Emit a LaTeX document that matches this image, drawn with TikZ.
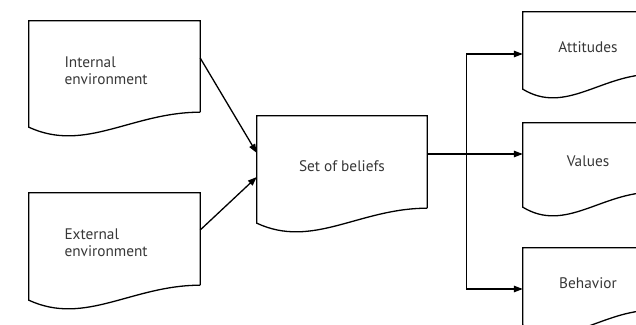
\documentclass[tikz,border=0pt]{standalone}
\usepackage{fontspec}
\setmainfont{PT Sans}
\usetikzlibrary{arrows.meta, positioning}
\definecolor{txtgray}{RGB}{55,55,55}

\tikzset{
    line/.style={line width=1.3pt, black},
    arr/.style={line, -{Triangle[length=9pt, width=6.5pt]}},
    % document shape: rectangle with a wavy lower edge (outline sits 4pt above the text centre)
    docbox/.style 2 args={rectangle, inner sep=0pt, minimum width=#1pt, minimum height=#2pt,
        align=center, text=txtgray, font=\fontsize{15.3}{17}\selectfont,
        append after command={
            \pgfextra{\let\docnode\tikzlastnode
            \draw[line, line join=miter]
            ([yshift=4]\docnode.south east) -- ([yshift=4]\docnode.north east)
            -- ([yshift=4]\docnode.north west) -- ([yshift=-11]\docnode.south west)
            .. controls +({0.33*#1}, -26) and +({-0.4*#1}, 0) .. ([yshift=4]\docnode.south east);}
        }},
}

\begin{document}
\begin{tikzpicture}[x=1pt, y=1pt]
    \useasboundingbox (0,0) rectangle (636,324);

    % left column
    \node[docbox={171}{91}, text width=100pt, align=left] (int) at (114.5,253.5) {Internal\\environment};
    \node[docbox={171}{92}, text width=100pt, align=left] (ext) at (114.5,81) {External\\environment};

    % middle
    \node[docbox={170}{92}] (bel) at (342,158) {Set of beliefs};

    % right column
    \node[docbox={130}{62}] (att) at (588,277) {Attitudes};
    \node[docbox={130}{69}] (val) at (588,162.5) {Values};
    \node[docbox={130}{62}] (beh) at (588,41) {Behavior};

    % inputs
    \draw[arr] ([yshift=12.5]int.east) -- ([yshift=13]bel.west);
    \draw[arr] ([yshift=13]ext.east) -- ([yshift=-11]bel.west);

    % outputs
    \coordinate (split) at ([xshift=39, yshift=12]bel.east);
    \draw[arr] ([yshift=12]bel.east) -- (split -| val.west);
    \draw[arr] (split) |- ([yshift=-7]att.west);
    \draw[arr] (split) |- ([yshift=-6]beh.west);
\end{tikzpicture}
\end{document}
